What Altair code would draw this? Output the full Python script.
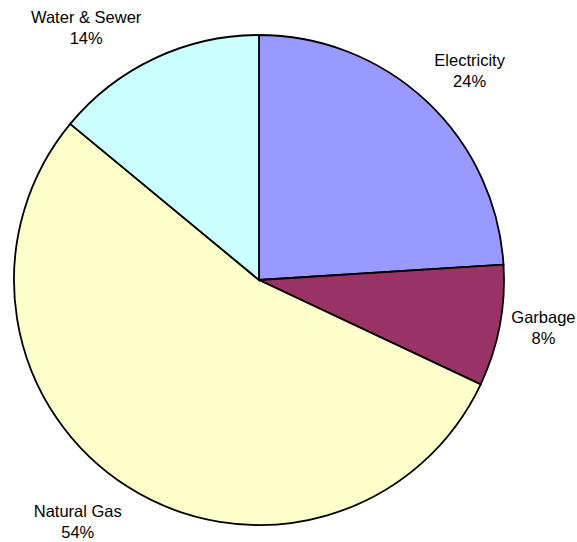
import altair as alt
import pandas as pd

# Monthly utility costs, share of total (%)
categories = ["Electricity", "Garbage", "Natural Gas", "Water & Sewer"]
shares = [24, 8, 54, 14]
colors = ["#9999FF", "#993366", "#FFFFCC", "#CCFFFF"]

df = pd.DataFrame({
    "category": categories,
    "share": shares,
    "order": list(range(len(categories))),
})
df["label"] = [f"{c}\n{s}%" for c, s in zip(categories, shares)]

CX, CY, R = 259, 280, 245
LABEL_R = 258
# offset of each label's first line from its anchor on the mid-angle ray
label_offsets = {
    "Electricity": (34, -31),
    "Garbage": (31, -10),
    "Natural Gas": (-43, 14),
    "Water & Sewer": (-63, -29),
}

theta_scale = alt.Scale(domain=[0, sum(shares)])

pie = alt.Chart(df).mark_arc(
    outerRadius=R, stroke="black", strokeWidth=1.8
).encode(
    theta=alt.Theta("share:Q", stack=True, scale=theta_scale),
    order=alt.Order("order:Q"),
    color=alt.Color("category:N", scale=alt.Scale(domain=categories, range=colors), legend=None),
    x=alt.value(CX),
    y=alt.value(CY),
)

label_base = alt.Chart(df).transform_window(
    cum="sum(share)", sort=[alt.SortField("order")]
).transform_calculate(
    mid="datum.cum - datum.share / 2"
)

layers = [pie]
for cat in categories:
    ox, oy = label_offsets[cat]
    layers.append(
        label_base.transform_filter(alt.datum.category == cat).mark_text(
            radius=LABEL_R, dx=ox, dy=oy, align="center", baseline="middle",
            lineBreak="\n", lineHeight=21, fontSize=16.5,
            font="Liberation Sans", color="black",
        ).encode(
            theta=alt.Theta("mid:Q", stack=None, scale=theta_scale),
            text="label:N",
            x=alt.value(CX),
            y=alt.value(CY),
        )
    )

chart = alt.layer(*layers).properties(
    width=577, height=542, padding=0, autosize="none", background="white"
).configure_view(strokeWidth=0)

chart.save("out.html", embed_options={"renderer": "svg", "actions": False})
